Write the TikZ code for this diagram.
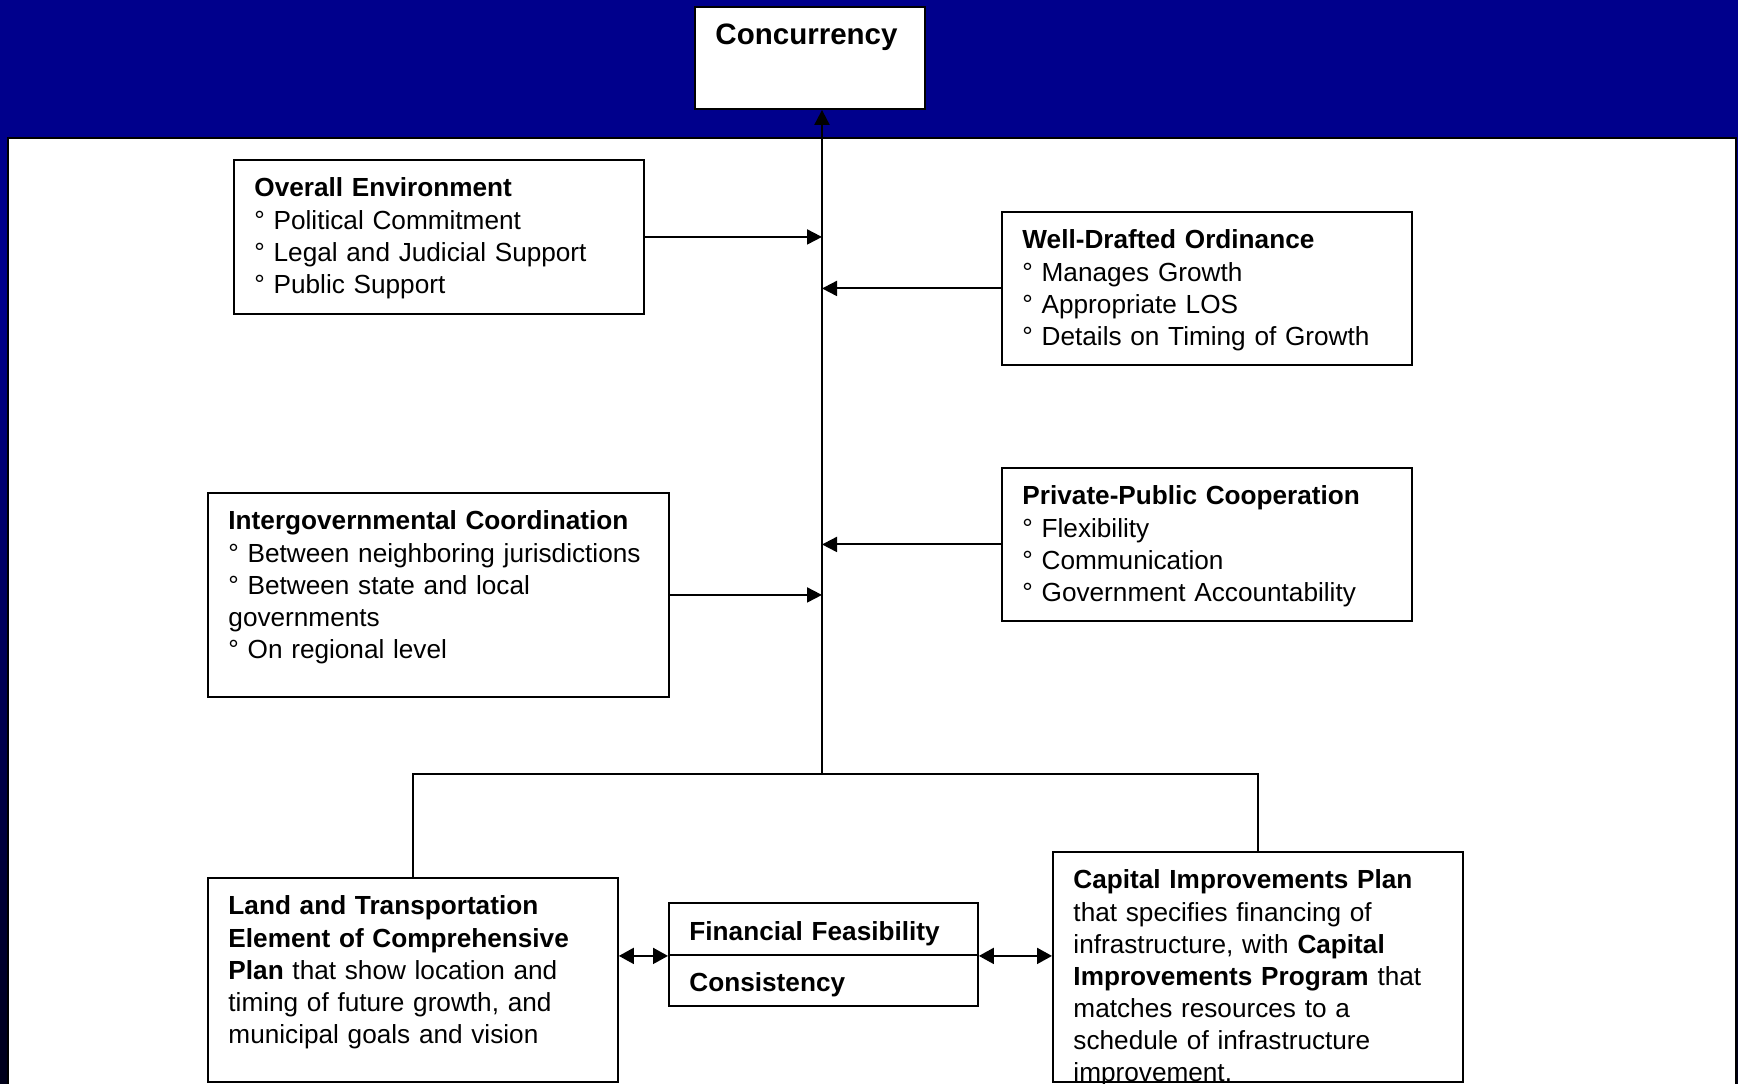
\documentclass[tikz,border=0pt]{standalone}
\usepackage{fontspec}
\setmainfont{Liberation Sans}
\usetikzlibrary{arrows.meta}
\definecolor{slidenavy}{RGB}{0,0,140}
\definecolor{slidedark}{RGB}{0,0,26}

\begin{document}
\begin{tikzpicture}[x = 0.02cm, y = -0.02cm,
            font = \fontsize{14.9pt}{18.26pt}\selectfont,
            card/.style = {draw, line width = 1.1pt, fill = white, anchor = north west,
                align = left, inner xsep = 0.41cm, inner ysep = 0pt, text height = 0.74cm},
            link/.style = {line width = 1.1pt},
            feed/.style = {-{Triangle[length = 0.3cm, width = 0.3cm]}},
            twoway/.style = {{Triangle[length = 0.3cm, width = 0.32cm]}-{Triangle[length = 0.3cm, width = 0.32cm]}}]
            \useasboundingbox (0,0) rectangle (1738,1084);
            \clip (0,0) rectangle (1738,1084);
            
            \fill [slidenavy] (0,0) rectangle (1738,300);
            \shade [top color = slidenavy, bottom color = slidedark] (0,300) rectangle (1738,1084);
            \draw [line width = 1.2pt, fill = white] (8,138) rectangle (1736,1110);
            
            \node [card, text width = 3.78cm, text height = 0.75cm, text depth = 1.29cm,
                font = \fontsize{16.8pt}{20pt}\selectfont\bfseries] (conc) at (694,6) {Concurrency};
            
            \node [card, text width = 7.38cm, text depth = 2.34cm] (env) at (233,159)
            {\textbf{Overall Environment}\\
            ° Political Commitment\\
            ° Legal and Judicial Support\\
            ° Public Support};
            
            \node [card, text width = 7.38cm, text depth = 2.32cm] (ord) at (1001,211)
            {\textbf{Well-Drafted Ordinance}\\
            ° Manages Growth\\
            ° Appropriate LOS\\
            ° Details on Timing of Growth};
            
            \node [card, text width = 7.38cm, text depth = 2.32cm] (ppc) at (1001,467)
            {\textbf{Private-Public Cooperation}\\
            ° Flexibility\\
            ° Communication\\
            ° Government Accountability};
            
            \node [card, text width = 8.4cm, text depth = 3.34cm] (igc) at (207,492)
            {\textbf{Intergovernmental Coordination}\\
            ° Between neighboring jurisdictions\\
            ° Between state and local\\
            governments\\
            ° On regional level};
            
            \node [card, text width = 7.38cm, text depth = 3.34cm] (land) at (207,877)
            {\textbf{Land and Transportation}\\
            \textbf{Element of Comprehensive}\\
            \textbf{Plan} that show location and\\
            timing of future growth, and\\
            municipal goals and vision};
            
            \node [card, text width = 5.36cm, text height = 0.75cm, text depth = 0.29cm] (feas) at (668,902)
            {\textbf{Financial Feasibility}};
            \node [card, text width = 5.36cm, text height = 0.73cm, text depth = 0.29cm] (cons) at (668,954)
            {\textbf{Consistency}};
            
            \node [card, text width = 7.38cm, text depth = 3.86cm] (cip) at (1052,851)
            {\textbf{Capital Improvements Plan}\\
            that specifies financing of\\
            infrastructure, with \textbf{Capital}\\
            \textbf{Improvements Program} that\\
            matches resources to a\\
            schedule of infrastructure\\
            improvement.};
            
            \coordinate (hub) at (822,774);
            \draw [link, feed] (hub) -- (hub |- conc.south);
            \draw [link, feed] (env.east) -- (env.east -| hub);
            \draw [link, feed] (ord.west) -- (ord.west -| hub);
            \draw [link, feed] (ppc.west) -- (ppc.west -| hub);
            \draw [link, feed] (igc.east) -- (igc.east -| hub);
            \draw [link] (land.north) |- (hub) -| (cip.north);
            \draw [link, twoway] (land.east |- feas.south west) -- (feas.south west);
            \draw [link, twoway] (feas.south east) -- (feas.south east -| cip.west);
        \end{tikzpicture}
\end{document}
